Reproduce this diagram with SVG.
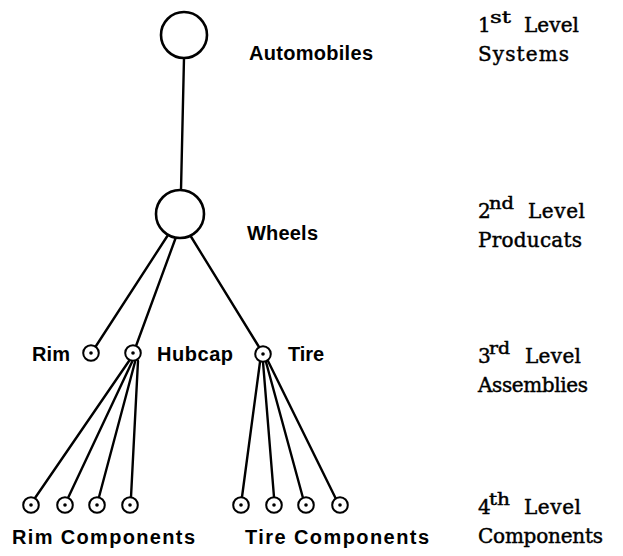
<svg xmlns="http://www.w3.org/2000/svg" width="623" height="556" viewBox="0 0 623 556">
  <style>
    .big { fill: #fff; stroke: #000; stroke-width: 2.6; }
    .small { fill: #fff; stroke: #000; stroke-width: 2; }
    .dot { fill: #000; }
    .edge { stroke: #000; stroke-width: 2.4; stroke-linecap: round; fill: none; }
    .lbl { font-family: "Liberation Sans", Arial, sans-serif; font-weight: bold; font-size: 20px; fill: #000; }
    .lvl { font-family: "DejaVu Serif", "Liberation Serif", serif; font-size: 20px; fill: #000; stroke: #000; stroke-width: 0.45; }
    .sup { font-size: 16px; }
  </style>
  <rect width="623" height="556" fill="#fff"/>

  <!-- connectors -->
  <g id="connectors" class="edge">
    <line x1="184" y1="58" x2="181" y2="190"/>
    <line x1="168" y1="235" x2="96" y2="346"/>
    <line x1="176" y1="237" x2="136" y2="346"/>
    <line x1="190" y1="235" x2="259" y2="347"/>
    <!-- hubcap to rim components -->
    <line x1="129" y1="361" x2="35" y2="498"/>
    <line x1="132" y1="362" x2="68" y2="498"/>
    <line x1="135" y1="362" x2="99" y2="497"/>
    <line x1="138" y1="361" x2="131" y2="497"/>
    <!-- tire to tire components -->
    <line x1="260" y1="362" x2="242" y2="497"/>
    <line x1="263" y1="362" x2="274" y2="497"/>
    <line x1="266" y1="362" x2="303" y2="498"/>
    <line x1="268" y1="361" x2="336" y2="499"/>
  </g>

  <!-- 1st level -->
  <g id="automobiles">
    <circle class="big" cx="184" cy="35" r="23"/>
    <text class="lbl" x="249" y="60" textLength="124">Automobiles</text>
  </g>

  <!-- 2nd level -->
  <g id="wheels">
    <circle class="big" cx="180" cy="214" r="24"/>
    <text class="lbl" x="247" y="240" textLength="71">Wheels</text>
  </g>

  <!-- 3rd level -->
  <g id="rim">
    <circle class="small" cx="91" cy="353" r="7.8"/>
    <circle class="dot" cx="91" cy="353" r="1.8"/>
    <text class="lbl" x="32" y="361" textLength="38">Rim</text>
  </g>
  <g id="hubcap">
    <circle class="small" cx="133" cy="353" r="7.8"/>
    <circle class="dot" cx="133" cy="353" r="1.8"/>
    <text class="lbl" x="157" y="361" textLength="76">Hubcap</text>
  </g>
  <g id="tire">
    <circle class="small" cx="263" cy="354" r="7.8"/>
    <circle class="dot" cx="263" cy="354" r="1.8"/>
    <text class="lbl" x="288" y="361" textLength="36">Tire</text>
  </g>

  <!-- 4th level: rim components -->
  <g id="rim-components">
    <circle class="small" cx="31" cy="505" r="7.8"/><circle class="dot" cx="31" cy="505" r="1.8"/>
    <circle class="small" cx="65" cy="505" r="7.8"/><circle class="dot" cx="65" cy="505" r="1.8"/>
    <circle class="small" cx="97" cy="505" r="7.8"/><circle class="dot" cx="97" cy="505" r="1.8"/>
    <circle class="small" cx="130" cy="505" r="7.8"/><circle class="dot" cx="130" cy="505" r="1.8"/>
    <text class="lbl" x="12" y="544" textLength="183">Rim Components</text>
  </g>

  <!-- 4th level: tire components -->
  <g id="tire-components">
    <circle class="small" cx="241" cy="505" r="7.8"/><circle class="dot" cx="241" cy="505" r="1.8"/>
    <circle class="small" cx="274" cy="505" r="7.8"/><circle class="dot" cx="274" cy="505" r="1.8"/>
    <circle class="small" cx="306" cy="505" r="7.8"/><circle class="dot" cx="306" cy="505" r="1.8"/>
    <circle class="small" cx="340" cy="505" r="7.8"/><circle class="dot" cx="340" cy="505" r="1.8"/>
    <text class="lbl" x="245" y="544" textLength="184">Tire Components</text>
  </g>

  <!-- level legend -->
  <g id="level-1">
    <text class="lvl" x="478" y="32">1<tspan class="sup" x="490" dy="-9" textLength="21" lengthAdjust="spacingAndGlyphs">st</tspan><tspan dy="9" x="524" textLength="55">Level</tspan></text>
    <text class="lvl" x="478" y="61" textLength="91">Systems</text>
  </g>
  <g id="level-2">
    <text class="lvl" x="478" y="218">2<tspan class="sup" x="489" dy="-9" textLength="25" lengthAdjust="spacingAndGlyphs">nd</tspan><tspan dy="9" x="528" textLength="57">Level</tspan></text>
    <text class="lvl" x="478" y="247" textLength="104">Producats</text>
  </g>
  <g id="level-3">
    <text class="lvl" x="478" y="363">3<tspan class="sup" x="489" dy="-9" textLength="21" lengthAdjust="spacingAndGlyphs">rd</tspan><tspan dy="9" x="525" textLength="56">Level</tspan></text>
    <text class="lvl" x="478" y="392" textLength="110">Assemblies</text>
  </g>
  <g id="level-4">
    <text class="lvl" x="478" y="514">4<tspan class="sup" x="489" dy="-9" textLength="21" lengthAdjust="spacingAndGlyphs">th</tspan><tspan dy="9" x="524" textLength="57">Level</tspan></text>
    <text class="lvl" x="478" y="543" textLength="125">Components</text>
  </g>
</svg>
